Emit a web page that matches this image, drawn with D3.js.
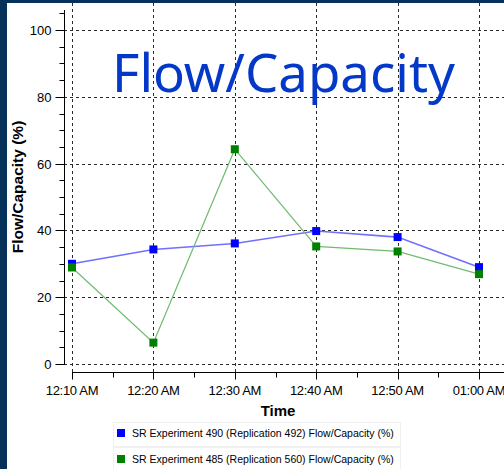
<!DOCTYPE html>
<html><head><meta charset="utf-8">
<script src="https://cdn.jsdelivr.net/npm/d3@7"></script>
<style>html,body{margin:0;padding:0;background:#06325a;}svg{display:block;}</style>
</head><body>
<svg id="c" width="504" height="469"></svg>
<script>
const times = ["12:10 AM","12:20 AM","12:30 AM","12:40 AM","12:50 AM","01:00 AM"];
const blueValues = [30.0, 34.3, 36.1, 39.8, 38.0, 29.0];
const greenValues = [28.9, 6.4, 64.3, 35.2, 33.7, 26.9];
const seriesNames = ["SR Experiment 490 (Replication 492) Flow/Capacity (%)",
                     "SR Experiment 485 (Replication 560) Flow/Capacity (%)"];
const yTicks = [0,20,40,60,80,100];
const chartTitle = "Flow/Capacity";
const yTitle = "Flow/Capacity (%)";
const xTitle = "Time";

const parse = d3.timeParse("%I:%M %p");
const dates = times.map(t => parse(t));

const svg = d3.select("#c");
svg.append("rect").attr("x",0).attr("y",0).attr("width",504).attr("height",469).attr("fill","#06325a");
svg.append("rect").attr("x",7).attr("y",3).attr("width",497).attr("height",466).attr("fill","#ffffff");

const x = d3.scaleTime().domain([dates[0], dates[dates.length-1]]).range([72, 479]);
const y = d3.scaleLinear().domain([0,100]).range([364, 30]);

const font = "'Liberation Sans', Arial, sans-serif";
const gridCol = "#2a2a2a";

// horizontal grid
svg.append("g").selectAll("line").data(yTicks).join("line")
  .attr("x1",64).attr("x2",504)
  .attr("y1",d=>Math.round(y(d))+0.5).attr("y2",d=>Math.round(y(d))+0.5)
  .attr("stroke",gridCol).attr("stroke-dasharray","3,3").attr("stroke-width",1);
// vertical grid
svg.append("g").selectAll("line").data(dates).join("line")
  .attr("x1",d=>Math.round(x(d))+0.5).attr("x2",d=>Math.round(x(d))+0.5)
  .attr("y1",3).attr("y2",372)
  .attr("stroke",gridCol).attr("stroke-dasharray","3,3").attr("stroke-width",1);

// y axis
const yAxisG = svg.append("g").attr("transform","translate(64.5,0)");
yAxisG.append("line").attr("x1",0).attr("x2",0).attr("y1",10).attr("y2",y(0)+0.5).attr("stroke","#000");
const minorY = d3.range(0,106,5);
yAxisG.selectAll("line.mt").data(minorY).join("line").attr("class","mt")
  .attr("x1",d=> d%20===0 ? -9 : -5).attr("x2",0)
  .attr("y1",d=>Math.round(y(d))+0.5).attr("y2",d=>Math.round(y(d))+0.5)
  .attr("stroke","#000");
yAxisG.selectAll("text").data(yTicks).join("text")
  .attr("x",-13).attr("y",d=>y(d)+5)
  .attr("text-anchor","end").attr("font-family",font).attr("font-size",13).attr("fill","#000")
  .text(d=>d);

// x axis
const xAxisG = svg.append("g").attr("transform","translate(0,372.5)");
xAxisG.append("line").attr("x1",x(dates[0])).attr("x2",504).attr("y1",0).attr("y2",0).attr("stroke","#000");
const minorX = x.ticks(d3.timeMinute.every(5));
xAxisG.selectAll("line.mt").data(minorX).join("line").attr("class","mt")
  .attr("x1",d=>Math.round(x(d))+0.5).attr("x2",d=>Math.round(x(d))+0.5)
  .attr("y1",0).attr("y2",d=> d.getMinutes()%10===0 ? 7 : 5).attr("stroke","#000");
xAxisG.selectAll("text").data(dates).join("text")
  .attr("x",d=>x(d)).attr("y",22.5)
  .attr("text-anchor","middle").attr("font-family",font).attr("font-size",13).attr("fill","#000")
  .attr("letter-spacing","-0.3")
  .text((d,i)=>times[i]);

// titles
svg.append("text").attr("x",278).attr("y",416).attr("text-anchor","middle")
  .attr("font-family",font).attr("font-weight","bold").attr("font-size",15).text(xTitle);
svg.append("text").attr("transform","translate(23,187) rotate(-90)").attr("text-anchor","middle")
  .attr("font-family",font).attr("font-weight","bold").attr("font-size",15.5).text(yTitle);

const t = svg.append("text").attr("x",112).attr("y",92)
  .attr("font-family","'Noto Sans', 'Open Sans', sans-serif").attr("font-size",50).attr("fill","#0438c8")
  .text(chartTitle);
const w = t.node().getComputedTextLength();
t.attr("font-size", 50*343/w);

// series
const line = d3.line().x((d,i)=>x(dates[i])).y(d=>y(d));
function series(vals, lineCol, markCol, lw){
  svg.append("path").datum(vals).attr("d",line).attr("fill","none").attr("stroke",lineCol).attr("stroke-width",lw);
  svg.append("g").selectAll("rect").data(vals).join("rect")
    .attr("x",(d,i)=>x(dates[i])-4).attr("y",d=>y(d)-4).attr("width",8).attr("height",8).attr("fill",markCol);
}
series(blueValues, "#7070ff", "#0000ff", 1.6);
series(greenValues, "#70bb70", "#008000", 1.2);

// legend
const lg = svg.append("g");
const legCols = ["#0000ff","#008000"];
seriesNames.forEach((n,i)=>{
  const top = 422 + i*25;
  lg.append("rect").attr("x",113.5).attr("y",top+0.5).attr("width",287).attr("height",24)
    .attr("fill","#fff").attr("stroke","#f0f0f0");
  lg.append("rect").attr("x",117).attr("y",429+i*26).attr("width",8).attr("height",8).attr("fill",legCols[i]);
  const tx = lg.append("text").attr("x",132).attr("y",437+i*25.5).attr("font-family",font).attr("font-size",11)
    .attr("fill","#000").text(n);
  const tw = tx.node().getComputedTextLength();
  tx.attr("font-size", 11*262/tw);
});
</script>
</body></html>
